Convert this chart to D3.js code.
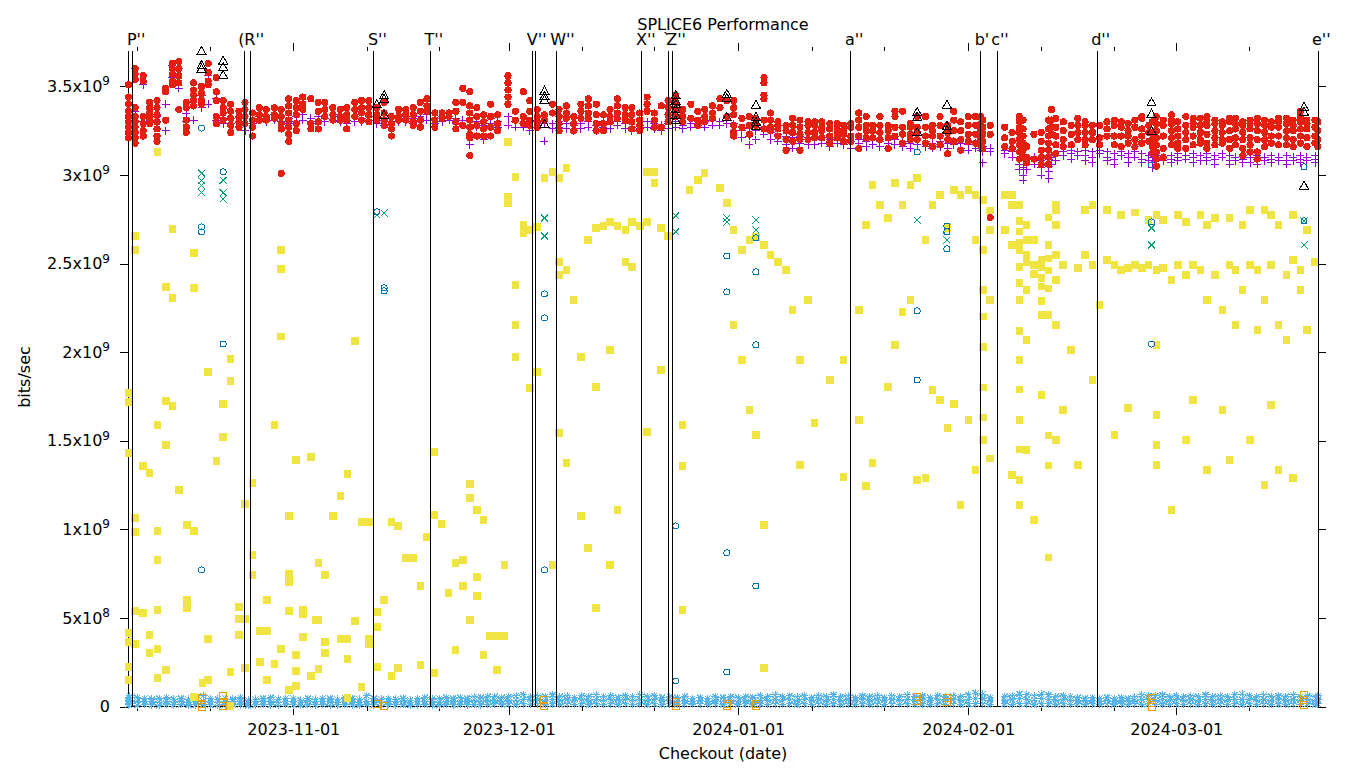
<!DOCTYPE html>
<html><head><meta charset="utf-8">
<script src="https://cdn.jsdelivr.net/npm/d3@7"></script>
<style>
body{margin:0;background:#fff}
svg{display:block}
text{font-family:"DejaVu Sans",sans-serif;fill:#000}
</style>
</head><body>
<svg id="chart" width="1360" height="768"></svg>
<script>
// ---------------- text ----------------
const title = "SPLICE6 Performance";
const xLabel = "Checkout (date)";
const yLabel = "bits/sec";

// ---------------- axes ----------------
// dates are "days since 2023-10-01 (UTC)"
const xStartDay = 8.73, xEndDay = 171.41;
const majorTickDates = ["2023-11-01","2023-12-01","2024-01-01","2024-02-01","2024-03-01"];
const minorTickDates = ["2023-10-11","2023-10-21","2023-11-11","2023-11-21","2023-12-11","2023-12-21",
  "2024-01-11","2024-01-21","2024-02-11","2024-02-21","2024-03-11"];
const yTicks = [0,0.5,1,1.5,2,2.5,3,3.5];           // x 1e9 bits/sec
const yTickLabels = ["0","5x10^8","1x10^9","1.5x10^9","2x10^9","2.5x10^9","3x10^9","3.5x10^9"];
const yMax = 3.7;

// vertical release markers ("+" = label continues the previous marker's label)
const markerDays   = [9.4, 24.5, 25.3, 42.0, 49.8, 64.3, 64.7, 67.5, 79.3, 82.9, 83.35, 107.4, 124.7, 126.95, 140.65, 171.41];
const markerLabels = ["P''","(","+R''","S''","T''","V''","","W''","X''","`","+Z''","a''","b'","+c''","d''","e''"];

// ---------------- series (value unit: 1e9 bits/sec) ----------------
// weekly full-test checkouts
const testDays = [18.8, 21.7, 42.4, 43.4, 65.9, 83.8, 90.5, 94.4, 116.3, 120.2, 148.4, 169.5];
const greenValues = [[3.01,2.97,2.94,2.90],[2.97,2.90,2.865],[2.775],[2.786],[2.758,2.656],[2.769,2.679],
  [2.758,2.735],[2.746,2.69],[2.746],[2.69,2.633],[2.70,2.605],[2.741,2.605]];
const blueValues = [[3.265,2.707,2.679,0.771],[3.018,2.046],[2.792],[2.363,2.346],[2.329,2.193,0.771],[1.019,0.144],
  [2.340,2.543,0.867,0.195],[2.645,2.453,2.041,0.680],[3.130,2.233,1.843],[2.712,2.679,2.583],[3.057,2.735,2.046],[3.046,2.741]];
const blackValues = [[3.70,3.62,3.60],[3.645,3.61,3.565],[3.40],[3.45,3.43,3.34],[3.475,3.446,3.424,3.288],
  [3.45,3.42,3.40,3.37,3.34,3.31],[3.458,3.435,3.328],[3.396,3.328,3.30,3.277],[3.356,3.328,3.243],
  [3.396,3.277,3.254],[3.41,3.345,3.25],[3.385,3.356,2.94]];
const orangeValues = [[0.05,0.015,0.0],[0.06,0.025,0.003],[0.014],[0.003],[0.035,0.003],[0.025,0.003],
  [0.014,0.003],[0.014,0.003],[0.055,0.03],[0.05,0.025],[0.048,0.02,0.0],[0.065,0.035,0.008]];

const redColumns = [
 [8.8,[3.51,3.44,3.40,3.36,3.33,3.30,3.27,3.24,3.21]],[9.7,[3.60,3.57,3.54,3.38,3.33,3.30,3.27,3.24,3.21,3.18]],
 [10.8,[3.56,3.53,3.33,3.29,3.25,3.22]],[11.7,[3.41,3.38,3.35,3.32,3.29]],[12.7,[3.42,3.38,3.34,3.30,3.26,3.22,3.19]],
 [13.9,[3.49,3.47,3.31]],[14.8,[3.63,3.60,3.57,3.53,3.51]],[15.7,[3.64,3.60,3.56,3.52,3.37]],
 [16.7,[3.41,3.38,3.31,3.27,3.24]],[17.7,[3.52,3.48,3.45,3.42,3.39]],[18.8,[3.50,3.46,3.42,3.40]],
 [19.7,[3.63,3.58,3.53,3.51]],[20.8,[3.55,3.47,3.42,3.33,3.29]],[21.7,[3.42,3.38,3.35,3.31]],
 [22.7,[3.40,3.36,3.32,3.28,3.24]],[23.8,[3.36,3.33,3.30,3.27]],[24.6,[3.41,3.37,3.33,3.29]],
 [25.6,[3.35,3.31,3.27,3.22]],[26.5,[3.38,3.34,3.31]],[27.4,[3.37,3.33,3.31]],[28.5,[3.38,3.34,3.32]],
 [29.4,[3.37,3.33,3.29,3.26,3.01]],[30.4,[3.43,3.39,3.35,3.31,3.27,3.23,3.19]],[31.4,[3.42,3.38,3.34,3.29,3.25]],
 [32.3,[3.44,3.40,3.37]],[33.4,[3.43,3.29,3.26]],[34.4,[3.41,3.36,3.30,3.26]],[35.3,[3.41,3.37,3.33]],
 [36.4,[3.38,3.34,3.31]],[37.4,[3.37,3.33,3.31]],[38.3,[3.38,3.34,3.31,3.26]],[39.4,[3.41,3.37,3.33]],
 [40.3,[3.42,3.38,3.35,3.31]],[41.3,[3.42,3.38,3.34,3.30]],[42.4,[3.38,3.34,3.31]],[43.4,[3.41,3.35,3.31,3.28]],
 [44.4,[3.33,3.29,3.26,3.22]],[45.4,[3.37,3.33,3.31]],[46.4,[3.37,3.34,3.31]],[47.4,[3.38,3.34,3.30,3.28]],
 [48.4,[3.41,3.36,3.31,3.27]],[49.3,[3.43,3.39,3.36]],[50.4,[3.35,3.31,3.27]],[51.4,[3.35,3.32]],
 [52.4,[3.35,3.33]],[53.4,[3.41,3.36,3.30,3.26]],[54.4,[3.49,3.41,3.28]],[55.4,[3.47,3.39,3.35,3.31,3.27,3.23,3.21,3.11]],
 [56.4,[3.38,3.33,3.28,3.22]],[57.4,[3.34,3.30,3.26,3.22]],[58.4,[3.40,3.33,3.27,3.22]],[59.4,[3.34,3.29,3.25]],
 [60.9,[3.56,3.52,3.48,3.44,3.40]],[61.9,[3.36,3.31]],[63.0,[3.47,3.33,3.29]],[63.9,[3.42,3.36,3.31,3.28]],
 [64.9,[3.37,3.33,3.30,3.27]],[65.9,[3.34,3.31]],[67.0,[3.40,3.35]],[67.9,[3.37,3.33,3.29,3.25]],
 [68.9,[3.39,3.35,3.32]],[69.9,[3.33,3.29,3.25]],[70.9,[3.40,3.36,3.32]],[71.9,[3.43,3.39,3.35,3.32]],
 [73.0,[3.40,3.34,3.29,3.25]],[74.0,[3.34,3.29,3.25]],[74.9,[3.37,3.33,3.30]],[75.9,[3.43,3.39,3.35,3.32]],
 [77.0,[3.38,3.34,3.31]],[77.9,[3.38,3.34,3.30,3.26]],[79.0,[3.35,3.31,3.28,3.25]],[80.0,[3.44,3.40,3.36]],
 [81.0,[3.35,3.31,3.27]],[81.9,[3.39,3.27]],[82.8,[3.42,3.38,3.34,3.30]],[83.8,[3.45,3.41,3.37,3.33]],
 [84.7,[3.37,3.33,3.30]],[85.8,[3.40,3.32]],[86.7,[3.36,3.31,3.28]],[87.6,[3.37,3.33,3.30]],
 [88.6,[3.39,3.35,3.32]],[89.6,[3.43,3.38]],[90.5,[3.42,3.33]],[91.4,[3.42,3.38,3.34,3.28,3.24,3.22]],
 [92.5,[3.32,3.27]],[93.5,[3.33,3.28,3.23]],[94.4,[3.32,3.28]],[95.5,[3.55,3.52,3.45,3.43,3.31,3.26]],
 [96.4,[3.35,3.31,3.27,3.25]],[97.4,[3.30,3.28,3.26,3.22]],[98.5,[3.28,3.25,3.20,3.14]],[99.4,[3.32,3.28,3.24,3.19]],
 [100.4,[3.31,3.27,3.23,3.20,3.14]],[101.5,[3.30,3.28,3.24,3.20]],[102.4,[3.30,3.28,3.24,3.21]],[103.4,[3.30,3.27,3.25,3.21]],
 [104.5,[3.29,3.26,3.22,3.18]],[105.5,[3.29,3.26,3.24,3.21]],[106.4,[3.28,3.25,3.23,3.19]],[107.4,[3.29,3.27,3.22,3.19]],
 [108.5,[3.35,3.31,3.27,3.22,3.15]],[109.5,[3.33,3.28,3.25,3.21]],[110.4,[3.28,3.25,3.21]],[111.4,[3.33,3.28,3.24,3.20]],
 [112.5,[3.28,3.25,3.21,3.15]],[113.4,[3.36,3.33,3.27,3.22]],[114.4,[3.36,3.27,3.23,3.18]],[115.4,[3.29,3.27,3.23,3.20]],
 [116.3,[3.33,3.27,3.24,3.20]],[117.4,[3.33,3.27,3.22,3.18]],[118.3,[3.28,3.25,3.22,3.16]],[119.3,[3.33,3.28,3.22,3.17]],
 [120.3,[3.28,3.24,3.20,3.12]],[121.1,[3.36,3.31,3.25,3.19]],[122.0,[3.30,3.25,3.20,3.14]],[123.0,[3.33,3.28,3.23,3.19]],
 [124.0,[3.33,3.28,3.23,3.18]],[124.7,[3.33,3.29,3.25,3.21,3.17]],[125.0,[3.31,3.27,3.23,3.19,3.15]],[126.0,[3.28,3.23,2.76]],
 [128.0,[3.27,3.21,3.16]],[129.0,[3.24,3.19,3.15]],[130.0,[3.33,3.30,3.27,3.24,3.20,3.17,3.13,3.09]],
 [130.5,[3.31,3.26,3.22,3.18,3.14,3.10]],[131.0,[3.16,3.10,3.07]],[132.0,[3.23,3.09]],
 [133.0,[3.24,3.19,3.14,3.10,3.06]],[134.0,[3.31,3.26,3.22,3.18,3.14,3.10,3.06]],[134.4,[3.37,3.31,3.27,3.23]],
 [135.0,[3.32,3.27,3.22,3.17,3.12]],[136.0,[3.30,3.25,3.20,3.16]],[137.1,[3.28,3.23,3.17]],[138.0,[3.32,3.28,3.24,3.20]],
 [139.0,[3.30,3.28,3.24,3.20,3.17]],[140.0,[3.28,3.24,3.20]],[141.0,[3.28,3.21,3.17]],[142.0,[3.30,3.26,3.22]],
 [143.0,[3.31,3.28,3.22,3.17]],[144.0,[3.30,3.27,3.22,3.16]],[145.0,[3.29,3.25,3.22,3.18]],[146.0,[3.31,3.27,3.20,3.16]],
 [147.0,[3.33,3.32,3.26,3.22,3.18]],[148.0,[3.28,3.24,3.19]],[148.5,[3.30,3.24,3.20,3.16,3.12]],
 [149.1,[3.33,3.29,3.25,3.21,3.17,3.13,3.09,3.05]],[150.1,[3.31,3.28,3.22,3.15,3.10]],[151.3,[3.34,3.31,3.29,3.25,3.21,3.17]],
 [152.2,[3.30,3.26,3.22,3.18,3.15]],[153.3,[3.33,3.28,3.24,3.20,3.15]],[154.3,[3.32,3.29,3.27,3.22,3.17]],
 [155.3,[3.32,3.28,3.24,3.20,3.18]],[156.2,[3.33,3.30,3.28,3.23,3.18,3.15]],[157.3,[3.31,3.29,3.25,3.21,3.17]],
 [158.3,[3.30,3.28,3.24,3.20,3.18]],[159.3,[3.32,3.30,3.25,3.20,3.15]],[160.1,[3.32,3.29,3.26,3.21,3.17]],
 [161.1,[3.30,3.28,3.24,3.20,3.15,3.11]],[162.1,[3.31,3.29,3.26,3.21,3.17,3.13]],[163.1,[3.32,3.29,3.25,3.20,3.13,3.09]],
 [164.1,[3.31,3.28,3.24,3.20,3.16]],[165.0,[3.30,3.27,3.22,3.18]],[166.0,[3.32,3.30,3.27,3.22,3.17]],
 [167.1,[3.32,3.29,3.25,3.21,3.17]],[168.0,[3.31,3.28,3.25,3.20,3.16]],[169.0,[3.36,3.33,3.30,3.26,3.22,3.18]],
 [169.9,[3.31,3.29,3.26,3.21,3.16]],[171.0,[3.31,3.27,3.22,3.18]],[171.4,[3.30,3.25,3.20,3.16]]
];

const purpleColumns = [
 [8.8,[3.37,3.32,3.28,3.25,3.22]],[9.7,[3.60,3.36,3.30,3.24]],[10.8,[3.51,3.30]],[11.7,[3.37,3.31]],[12.7,[3.33,3.30]],
 [13.9,[3.40,3.25]],[14.8,[3.62,3.55]],[15.7,[3.60,3.49]],[16.7,[3.35,3.30]],[17.7,[3.45,3.31]],[18.8,[3.45,3.38]],
 [19.7,[3.56,3.40]],[20.8,[3.43,3.31]],[21.7,[3.32,3.29]],[22.7,[3.32,3.29]],[23.8,[3.30,3.27]],[24.6,[3.29,3.25]],
 [25.6,[3.32,3.29]],[26.5,[3.33,3.31]],[27.4,[3.32,3.30]],[28.5,[3.34,3.31]],[29.4,[3.33,3.30]],[30.4,[3.32,3.29]],
 [31.4,[3.33,3.30]],[32.3,[3.34,3.31]],[33.4,[3.32,3.30]],[34.4,[3.33,3.29]],[35.3,[3.32,3.30]],[36.4,[3.34,3.31]],
 [37.4,[3.33,3.30]],[38.3,[3.31,3.29]],[39.4,[3.33,3.30]],[40.3,[3.32,3.30]],[41.3,[3.33,3.31]],[42.4,[3.32,3.29]],
 [43.4,[3.31,3.28]],[44.4,[3.30,3.27]],[45.4,[3.32,3.30]],[46.4,[3.33,3.30]],[47.4,[3.32,3.29]],[48.4,[3.33,3.30]],
 [49.3,[3.34,3.31]],[50.4,[3.32,3.29]],[51.4,[3.33,3.30]],[52.4,[3.35,3.31]],[53.4,[3.32,3.29]],[54.4,[3.31,3.28]],
 [55.4,[3.30,3.26,3.17]],[56.4,[3.30,3.27]],[57.4,[3.31,3.28,3.20]],[58.4,[3.32,3.29]],[59.4,[3.30,3.27]],
 [60.9,[3.33,3.28]],[61.9,[3.30,3.27]],[63.0,[3.29,3.27]],[63.9,[3.30,3.25]],[64.9,[3.31,3.27]],[65.9,[3.29,3.19]],
 [67.0,[3.29,3.26]],[67.9,[3.30,3.27]],[68.9,[3.29,3.26]],[69.9,[3.28,3.25]],[70.9,[3.29,3.26]],[71.9,[3.30,3.27]],
 [73.0,[3.28,3.25]],[74.0,[3.30,3.27]],[74.9,[3.29,3.26]],[75.9,[3.30,3.28]],[77.0,[3.29,3.26]],[77.9,[3.27,3.25]],
 [79.0,[3.28,3.26]],[80.0,[3.30,3.27]],[81.0,[3.29,3.26]],[81.9,[3.28,3.25]],[82.8,[3.29,3.26]],[83.8,[3.30,3.27]],
 [84.7,[3.28,3.26]],[85.8,[3.29,3.27]],[86.7,[3.30,3.28]],[87.6,[3.30,3.27]],[88.6,[3.31,3.28]],[89.6,[3.30,3.28]],
 [90.5,[3.31,3.29]],[91.4,[3.29,3.25]],[92.5,[3.25,3.21]],[93.5,[3.26,3.22,3.17]],[94.4,[3.25,3.20]],[95.5,[3.27,3.23]],
 [96.4,[3.24,3.20]],[97.4,[3.23,3.19]],[98.5,[3.22,3.17]],[99.4,[3.21,3.15]],[100.4,[3.22,3.18]],[101.5,[3.21,3.17]],
 [102.4,[3.20,3.17]],[103.4,[3.21,3.18]],[104.5,[3.20,3.16]],[105.5,[3.21,3.18]],[106.4,[3.20,3.17]],[107.4,[3.19,3.15]],
 [108.5,[3.20,3.18]],[109.5,[3.19,3.16]],[110.4,[3.20,3.17]],[111.4,[3.19,3.16]],[112.5,[3.18,3.15]],[113.4,[3.20,3.17]],
 [114.4,[3.19,3.16]],[115.4,[3.18,3.15]],[116.3,[3.20,3.17]],[117.4,[3.19,3.16]],[118.3,[3.18,3.15]],[119.3,[3.19,3.16]],
 [120.3,[3.18,3.15]],[121.1,[3.19,3.17]],[122.0,[3.18,3.15]],[123.0,[3.17,3.14]],[124.0,[3.18,3.15]],[124.7,[3.17,3.14]],
 [125.0,[3.16,3.13,3.07]],[126.0,[3.15,3.13]],[128.0,[3.14,3.12]],[129.0,[3.13,3.10]],[130.0,[3.10,3.06,3.03]],
 [130.5,[3.08,3.04,3.00,2.97]],[131.0,[3.06,3.03]],[132.0,[3.10,3.06]],[133.0,[3.08,3.04,3.00]],[134.0,[3.09,3.05,3.02,2.98]],
 [134.4,[3.10,3.06]],[135.0,[3.11,3.08]],[136.0,[3.13,3.11]],[137.1,[3.14,3.12,3.09]],[138.0,[3.13,3.11]],[139.0,[3.14,3.11,3.08]],
 [140.0,[3.13,3.10,3.07]],[141.0,[3.14,3.12]],[142.0,[3.13,3.10,3.08]],[143.0,[3.12,3.09,3.06]],[144.0,[3.13,3.11]],
 [145.0,[3.12,3.10,3.07]],[146.0,[3.13,3.10]],[147.0,[3.12,3.09,3.07]],[148.0,[3.11,3.08]],[148.5,[3.10,3.07,3.04]],
 [149.1,[3.11,3.09,3.06]],[150.1,[3.10,3.08]],[151.3,[3.11,3.09,3.07]],[152.2,[3.12,3.10,3.08]],[153.3,[3.11,3.09]],
 [154.3,[3.12,3.10,3.07]],[155.3,[3.11,3.08]],[156.2,[3.12,3.10,3.08]],[157.3,[3.11,3.09,3.06]],[158.3,[3.12,3.10]],
 [159.3,[3.11,3.08,3.06]],[160.1,[3.10,3.08]],[161.1,[3.11,3.09,3.07]],[162.1,[3.10,3.07]],[163.1,[3.11,3.09,3.06]],
 [164.1,[3.10,3.08]],[165.0,[3.11,3.09,3.07]],[166.0,[3.10,3.08]],[167.1,[3.11,3.08,3.06]],[168.0,[3.10,3.08]],
 [169.0,[3.11,3.09,3.07]],[169.9,[3.10,3.08]],[171.0,[3.11,3.09,3.07]]
];

const skyColumns = [
 [8.8,[0.01,0.03,0.05]],[9,[0.015,0.035,0.06]],[10,[0.008,0.03,0.05]],[11,[0.012,0.03,0.045]],[12,[0.01,0.028,0.04]],
 [13,[0.006,0.025,0.045]],[14,[0.012,0.03,0.05]],[15,[0.01,0.025,0.04]],[16,[0.012,0.03,0.045]],[17,[0.008,0.025,0.04]],
 [18,[0.01,0.03,0.05]],[19,[0.012,0.03,0.06]],[20,[0.01,0.028,0.045]],[21,[0.008,0.025,0.04]],[22,[0.01,0.03,0.045]],
 [23,[0.012,0.028,0.04]],[24,[0.01,0.03,0.05]],[25,[0.006,0.022,0.035]],[26,[0.01,0.028,0.04]],[27,[0.012,0.03,0.045]],
 [28,[0.01,0.03,0.05]],[29,[0.008,0.025,0.04]],[30,[0.012,0.03,0.045]],[31,[0.01,0.028,0.045]],[32,[0.008,0.022,0.035]],
 [33,[0.012,0.03,0.045]],[34,[0.01,0.028,0.04]],[35,[0.012,0.03,0.045]],[36,[0.008,0.028,0.045]],[37,[0.01,0.025,0.04]],
 [38,[0.012,0.03,0.05]],[39,[0.01,0.028,0.045]],[40,[0.008,0.025,0.04]],[41,[0.012,0.03,0.06]],[42,[0.01,0.028,0.045]],
 [43,[0.008,0.025,0.04]],[44,[0.012,0.03,0.045]],[45,[0.01,0.028,0.04]],[46,[0.012,0.03,0.045]],[47,[0.008,0.022,0.035]],
 [48,[0.01,0.028,0.045]],[49,[0.012,0.03,0.05]],[50,[0.01,0.028,0.04]],[51,[0.008,0.025,0.045]],[52,[0.012,0.03,0.05]],
 [53,[0.01,0.03,0.045]],[54,[0.012,0.03,0.05]],[55,[0.01,0.028,0.045]],[56,[0.012,0.035,0.055]],[57,[0.01,0.03,0.05]],
 [58,[0.012,0.035,0.055]],[59,[0.015,0.035,0.055]],[60,[0.012,0.03,0.05]],[61,[0.015,0.035,0.055]],[62,[0.012,0.035,0.06]],
 [63,[0.015,0.04,0.065]],[64,[0.012,0.035,0.055]],[65,[0.015,0.04,0.06]],[66,[0.012,0.035,0.055]],[67,[0.015,0.04,0.065]],
 [68,[0.012,0.035,0.055]],[69,[0.015,0.04,0.06]],[70,[0.012,0.035,0.05]],[71,[0.015,0.04,0.06]],[72,[0.012,0.035,0.055]],
 [73,[0.015,0.04,0.065]],[74,[0.012,0.035,0.055]],[75,[0.015,0.04,0.06]],[76,[0.012,0.035,0.05]],[77,[0.015,0.04,0.06]],
 [78,[0.012,0.035,0.055]],[79,[0.015,0.04,0.065]],[80,[0.012,0.035,0.055]],[81,[0.015,0.04,0.06]],[82,[0.012,0.035,0.05]],
 [83,[0.015,0.035,0.055]],[84,[0.012,0.03,0.05]],[85,[0.015,0.035,0.055]],[86,[0.012,0.03,0.045]],[87,[0.015,0.035,0.05]],
 [88,[0.012,0.03,0.045]],[89,[0.015,0.035,0.055]],[90,[0.012,0.03,0.05]],[91,[0.015,0.035,0.055]],[92,[0.012,0.03,0.05]],
 [93,[0.015,0.035,0.055]],[94,[0.012,0.03,0.05]],[95,[0.015,0.035,0.06]],[96,[0.012,0.035,0.055]],[97,[0.015,0.04,0.065]],
 [98,[0.012,0.035,0.055]],[99,[0.015,0.04,0.06]],[100,[0.012,0.035,0.055]],[101,[0.015,0.04,0.06]],[102,[0.012,0.035,0.05]],
 [103,[0.015,0.04,0.06]],[104,[0.012,0.035,0.055]],[105,[0.015,0.04,0.065]],[106,[0.012,0.035,0.055]],[107,[0.015,0.04,0.06]],
 [108,[0.012,0.035,0.05]],[109,[0.015,0.04,0.06]],[110,[0.012,0.035,0.055]],[111,[0.015,0.04,0.06]],[112,[0.012,0.035,0.05]],
 [113,[0.015,0.04,0.06]],[114,[0.012,0.035,0.055]],[115,[0.015,0.04,0.065]],[116,[0.012,0.035,0.055]],[117,[0.015,0.04,0.06]],
 [118,[0.012,0.035,0.05]],[119,[0.015,0.04,0.06]],[120,[0.012,0.035,0.055]],[121,[0.015,0.04,0.06]],[122,[0.012,0.035,0.055]],
 [123,[0.015,0.04,0.065]],[124,[0.015,0.045,0.075]],[125,[0.015,0.045,0.07]],[126,[0.012,0.035,0.05]],
 [128,[0.015,0.035,0.055]],[129,[0.012,0.04,0.06]],[130,[0.015,0.045,0.07]],[131,[0.015,0.04,0.065]],[132,[0.012,0.035,0.06]],
 [133,[0.015,0.045,0.07]],[134,[0.015,0.04,0.065]],[135,[0.012,0.035,0.055]],[136,[0.015,0.04,0.06]],[137,[0.012,0.035,0.055]],
 [138,[0.015,0.035,0.05]],[139,[0.012,0.03,0.045]],[140,[0.015,0.035,0.05]],[141,[0.012,0.03,0.045]],[142,[0.015,0.035,0.05]],
 [143,[0.012,0.03,0.045]],[144,[0.015,0.035,0.05]],[145,[0.012,0.03,0.045]],[146,[0.015,0.035,0.055]],[147,[0.012,0.04,0.065]],
 [148,[0.015,0.04,0.06]],[149,[0.012,0.035,0.06]],[150,[0.015,0.04,0.065]],[151,[0.012,0.035,0.055]],[152,[0.015,0.04,0.06]],
 [153,[0.012,0.035,0.055]],[154,[0.015,0.04,0.06]],[155,[0.012,0.035,0.055]],[156,[0.015,0.04,0.065]],[157,[0.012,0.035,0.055]],
 [158,[0.015,0.04,0.06]],[159,[0.012,0.035,0.055]],[160,[0.015,0.04,0.065]],[161,[0.012,0.04,0.07]],[162,[0.015,0.04,0.06]],
 [163,[0.012,0.035,0.055]],[164,[0.015,0.04,0.065]],[165,[0.012,0.035,0.055]],[166,[0.015,0.04,0.06]],[167,[0.012,0.035,0.055]],
 [168,[0.015,0.04,0.065]],[169,[0.012,0.035,0.055]],[170,[0.015,0.04,0.06]],[171,[0.012,0.035,0.055]],[171.4,[0.015,0.04,0.06]]
];

const yellowColumns = [
 [8.8,[1.770,1.719,1.431,0.415,0.364,0.223,0.149]],[9.7,[2.656,2.577,1.064,0.985,0.539,0.353]],[10.8,[1.358,0.528]],
 [11.7,[1.318,0.404,0.302]],[12.8,[3.130,1.589,0.991,0.827,0.545,0.325,0.161]],[13.9,[2.368,1.725,1.476,0.206]],
 [14.8,[2.695,2.306,1.696]],[15.7,[1.222]],[16.8,[1.025,0.601,0.556]],[17.8,[2.560,2.363,0.991,0.054]],[18.9,[0.133]],
 [19.7,[1.888,0.381,0.149]],[20.8,[1.386]],[21.7,[1.708,1.521]],[22.7,[1.962,1.837,0.195,0.003]],[23.8,[0.562,0.494,0.404]],
 [24.6,[1.143,0.494,0.217]],[25.6,[1.262,0.855,0.742]],[26.6,[0.426,0.251]],[27.5,[0.601,0.426,0.149]],[28.5,[1.589,0.240]],
 [29.4,[2.577,2.470,2.089,0.325]],[30.4,[1.075,0.748,0.703,0.539,0.093]],[31.4,[1.392,0.291,0.200,0.116]],
 [32.3,[0.545,0.522,0.392]],[33.4,[1.408,0.172]],[34.0,[0.488]],[34.4,[0.488,0.810,0.212]],[35.3,[0.742,0.364,0.302]],
 [36.4,[1.075]],[37.4,[1.188,0.381]],[38.4,[1.312,0.381,0.268,0.048]],[39.4,[2.063,0.483]],[40.3,[1.041,0.110]],
 [41.3,[1.041,0.381,0.353]],[42.4,[0.533,0.449,0.223]],[43.4,[0.601]],[44.4,[1.041,0.172]],[45.3,[1.019,0.217]],
 [46.4,[0.838]],[47.4,[0.838]],[48.4,[0.680,0.234]],[49.3,[0.957]],[50.3,[1.437,1.081,0.189]],[51.3,[1.030]],
 [52.3,[0.641]],[53.3,[0.810,0.319]],[54.4,[0.827,0.680]],[55.4,[1.256,1.177,0.488]],[56.4,[1.109,0.731,0.624]],
 [57.4,[1.053,0.291]],[58.3,[0.398]],[59.3,[0.398,0.206]],[60.4,[0.398,0.799]],[60.9,[3.187,2.876,2.842]],
 [61.9,[2.989,2.380,2.154,1.973]],[63.0,[2.718,2.673]],[63.9,[2.690,1.798]],[64.9,[2.707,1.888]],
 [65.9,[2.983]],[67.0,[3.018,0.799]],[67.9,[2.983,2.509,2.436,1.544]],[68.9,[3.040,2.464,1.375]],[69.9,[2.295]],
 [70.9,[1.973,1.075]],[71.9,[2.633,0.895]],[73.0,[2.701,1.804,0.556]],[74.0,[2.712]],[74.9,[2.735,2.012,0.799]],
 [75.9,[2.712,1.109]],[77.0,[2.690,2.509]],[77.9,[2.735,2.481]],[79.0,[2.712]],[80.0,[3.018,2.735,1.550]],
 [81.0,[3.018,2.955]],[81.9,[2.701,1.900]],[82.8,[2.656]],[84.7,[1.589,1.358,0.545]],[85.6,[2.916]],[86.7,[2.972]],
 [87.6,[3.012]],[89.6,[2.927]],[90.5,[2.842]],[91.4,[2.690,2.154]],[92.5,[2.577,1.956]],[93.5,[2.633,1.674]],
 [94.4,[2.650,1.533]],[95.5,[2.605,1.025,0.217]],[96.4,[2.549]],[97.4,[2.509]],[98.5,[2.464]],[99.4,[2.238]],
 [100.4,[1.956,1.363]],[101.5,[2.295]],[102.4,[1.600]],[104.5,[1.843]],[106.4,[1.956,1.295]],[108.5,[2.238,1.617]],
 [109.5,[2.718,1.245]],[110.4,[2.944,1.375]],[111.4,[2.831]],[112.5,[2.758,1.804]],[113.4,[2.955,2.041]],
 [114.4,[2.831,2.227]],[115.4,[2.944,2.295]],[116.3,[2.983,1.279]],[117.4,[2.633,1.290]],[118.3,[2.831,1.787]],
 [119.3,[2.887,1.730]],[120.3,[2.701,1.572]],[121.1,[2.916,1.708]],[122.0,[2.887,1.138]],[123.0,[2.916,1.617]],
 [124.0,[2.887,2.633,1.335]],[125.0,[2.859,2.577,2.351,2.20,2.03,1.80,1.63,1.504]],[126.0,[2.80,2.690,2.295,1.40]],
 [128.0,[2.887,2.690]],[129.0,[2.887,2.83,2.605,1.307]],
 [130.0,[2.83,2.74,2.68,2.62,2.577,2.48,2.39,2.295,2.12,1.956,1.79,1.617,1.45,1.279,1.138]],
 [131.0,[2.719,2.634,2.549,2.51,2.351,2.069,1.448]],[132.0,[2.633,2.492,2.44,1.053]],
 [133.0,[2.52,2.48,2.42,2.37,2.29,2.21,1.759]],[134.0,[2.76,2.606,2.53,2.46,2.36,2.21,1.53,1.36,0.84]],
 [135.0,[2.831,2.803,2.718,2.549,2.408,2.154,1.504]],[136.0,[2.492,1.674]],[137.1,[2.012]],[138.0,[2.475,1.363]],[139.0,[2.803,2.549]],
 [140.0,[2.831,2.492,1.843]],[141.0,[2.266]],[142.0,[2.803,2.521]],[143.0,[2.492,1.533]],[144.0,[2.775,2.464]],
 [145.0,[2.475,1.685]],[146.0,[2.789,2.492]],[147.0,[2.475]],[148.0,[2.746,2.492]],
 [149.1,[2.775,2.464,2.041,1.645,1.476,1.363]],[150.1,[2.746,2.475]],[151.3,[2.408,1.109]],[152.2,[2.775,2.492]],
 [153.3,[2.735,2.436,1.504]],[154.3,[2.492,1.730]],[155.3,[2.775,2.464]],[156.2,[2.718,2.295,1.335]],[157.3,[2.758,2.436]],
 [158.3,[2.238,1.674]],[159.3,[2.758,2.492,1.392]],[160.1,[2.464,2.154]],[161.1,[2.718,2.351]],[162.1,[2.803,2.492,1.504]],
 [163.1,[2.464,2.125]],[164.1,[2.803,2.295,1.250]],[165.0,[2.775,2.492,1.702]],[166.0,[2.718,2.154,1.335]],
 [167.1,[2.436,2.069]],[168.0,[2.775,2.521,1.290]],[169.0,[2.464,2.351]],[169.9,[2.690,2.125]],[171.0,[2.509]]
];

// ---------------- drawing ----------------
const plot = {left:128, right:1318, top:51, bottom:706.5};
const epoch = Date.UTC(2023, 9, 1);
const dayToDate = d => new Date(epoch + d * 864e5);
const parseUtc = d3.utcParse("%Y-%m-%d");
const majorDates = majorTickDates.map(parseUtc);
const minorDates = minorTickDates.map(parseUtc);
// the reference's date axis is not uniform: calibrate the scale on its tick marks
const calDates = [dayToDate(xStartDay), ...minorDates.slice(0,2), majorDates[0], ...minorDates.slice(2,4), majorDates[1],
  ...minorDates.slice(4,6), majorDates[2], ...minorDates.slice(6,8), majorDates[3], ...minorDates.slice(8,10), majorDates[4],
  minorDates[10], dayToDate(xEndDay)];
const calPx = [plot.left,137.3,210.3,293.3,366.7,439.3,508.7,581.7,654.3,738.3,811.7,884.3,968.3,1041.3,1114.3,1176.3,1249.3,plot.right];
const x = d3.scaleUtc().domain(calDates).range(calPx);
const y = d3.scaleLinear().domain([0, yMax]).range([plot.bottom, plot.top]);

const svg = d3.select("#chart");
svg.append("rect").attr("width",1360).attr("height",768).attr("fill","#fff");

// axes
const axG = svg.append("g").attr("shape-rendering","crispEdges");
function styleAxis(g){ g.select(".domain").remove(); g.selectAll("line").attr("stroke","#000"); g.selectAll("text").attr("font-size",16).attr("font-family","DejaVu Sans"); }
axG.append("g").attr("transform",`translate(0,${plot.bottom})`)
  .call(d3.axisBottom(x).tickValues(majorDates).tickSize(8).tickPadding(9).tickFormat(d3.utcFormat("%Y-%m-%d"))).call(styleAxis);
axG.append("g").attr("transform",`translate(0,${plot.bottom})`)
  .call(d3.axisBottom(x).tickValues(minorDates).tickSize(4).tickFormat("")).call(styleAxis);
axG.append("g").attr("transform",`translate(0,${plot.top})`)
  .call(d3.axisTop(x).tickValues(majorDates).tickSize(8).tickFormat("")).call(styleAxis);
axG.append("g").attr("transform",`translate(0,${plot.top})`)
  .call(d3.axisTop(x).tickValues(minorDates).tickSize(4).tickFormat("")).call(styleAxis);
const gl = axG.append("g").attr("transform",`translate(${plot.left},0)`)
  .call(d3.axisLeft(y).tickValues(yTicks).tickSize(8).tickPadding(10)).call(styleAxis);
gl.selectAll(".tick text").each(function(d,i){
  const t = d3.select(this); t.text(null);
  const parts = yTickLabels[i].split("^");
  t.append("tspan").text(parts[0]);
  if (parts[1]) t.append("tspan").attr("font-size",12).attr("dy","-0.55em").text(parts[1]);
});
axG.append("g").attr("transform",`translate(${plot.right},0)`)
  .call(d3.axisRight(y).tickValues(yTicks).tickSize(8).tickFormat("")).call(styleAxis);
// border: left, bottom, right
axG.append("path").attr("fill","none").attr("stroke","#000")
  .attr("d",`M${plot.left},${plot.top}V${plot.bottom}H${plot.right}V${plot.top}`);

// symbols (gnuplot point types 1..8)
const sym = {
  plus:  "M-4,0H4M0,-4V4",
  cross: "M-3.5,-3.5L3.5,3.5M-3.5,3.5L3.5,-3.5",
  star:  "M-4,0H4M0,-4V4M-3,-3L3,3M-3,3L3,-3",
  box:   "M-3.5,-3.5H3.5V3.5H-3.5Z",
  circle:"M-3,0A3,3 0 1,0 3,0A3,3 0 1,0 -3,0Z",
  disc:  "M-3.6,0A3.6,3.6 0 1,0 3.6,0A3.6,3.6 0 1,0 -3.6,0Z",
  tri:   "M0,-4.5L4.5,3.5H-4.5Z"
};
function flatten(cols){ const out=[]; cols.forEach(([d,vals])=>vals.forEach(v=>out.push([d,v]))); return out; }
function zipTests(vals){ return testDays.map((d,i)=>[d, vals[i]]); }
function drawSeries(cols, path, style){
  const g = svg.append("g").attr("shape-rendering","crispEdges");
  g.selectAll("path").data(flatten(cols)).join("path")
    .attr("transform",d=>`translate(${x(dayToDate(d[0]))},${y(d[1])})`)
    .attr("d",path)
    .attr("fill",style.fill||"none").attr("stroke",style.stroke||"none").attr("stroke-width",1);
}
drawSeries(purpleColumns, sym.plus, {stroke:"#9400d3"});
drawSeries(zipTests(greenValues), sym.cross, {stroke:"#009e73"});
drawSeries(skyColumns, sym.star, {stroke:"#56b4e9"});
drawSeries(zipTests(orangeValues), sym.box, {stroke:"#e69f00"});
drawSeries(yellowColumns, "M-3.75,-3.75H3.75V3.75H-3.75Z", {fill:"#f0e442"});
drawSeries(zipTests(blueValues), sym.circle, {stroke:"#0072b2"});
drawSeries(redColumns, sym.disc, {fill:"#e51e10"});
drawSeries(zipTests(blackValues), sym.tri, {stroke:"#000"});

// release markers
const mk = svg.append("g");
let lastLabel = null;
markerDays.forEach((d,i)=>{
  const xp = x(dayToDate(d));
  mk.append("line").attr("x1",xp).attr("x2",xp).attr("y1",plot.top).attr("y2",plot.bottom)
    .attr("stroke","#000").attr("shape-rendering","crispEdges");
  const lab = markerLabels[i];
  if (!lab) return;
  if (lab[0] === "+" && lastLabel) {
    lastLabel.append("tspan").attr("x",xp-6).text(lab.slice(1));
  } else {
    lastLabel = mk.append("text").attr("x",xp-6).attr("y",45).attr("font-size",16);
    lastLabel.append("tspan").text(lab);
  }
});

// titles
svg.append("text").attr("x",(plot.left+plot.right)/2).attr("y",30).attr("text-anchor","middle").attr("font-size",16).text(title);
svg.append("text").attr("x",(plot.left+plot.right)/2).attr("y",759).attr("text-anchor","middle").attr("font-size",16).text(xLabel);
svg.append("text").attr("transform","translate(30,377) rotate(-90)").attr("text-anchor","middle").attr("font-size",16).text(yLabel);
</script>
</body></html>
